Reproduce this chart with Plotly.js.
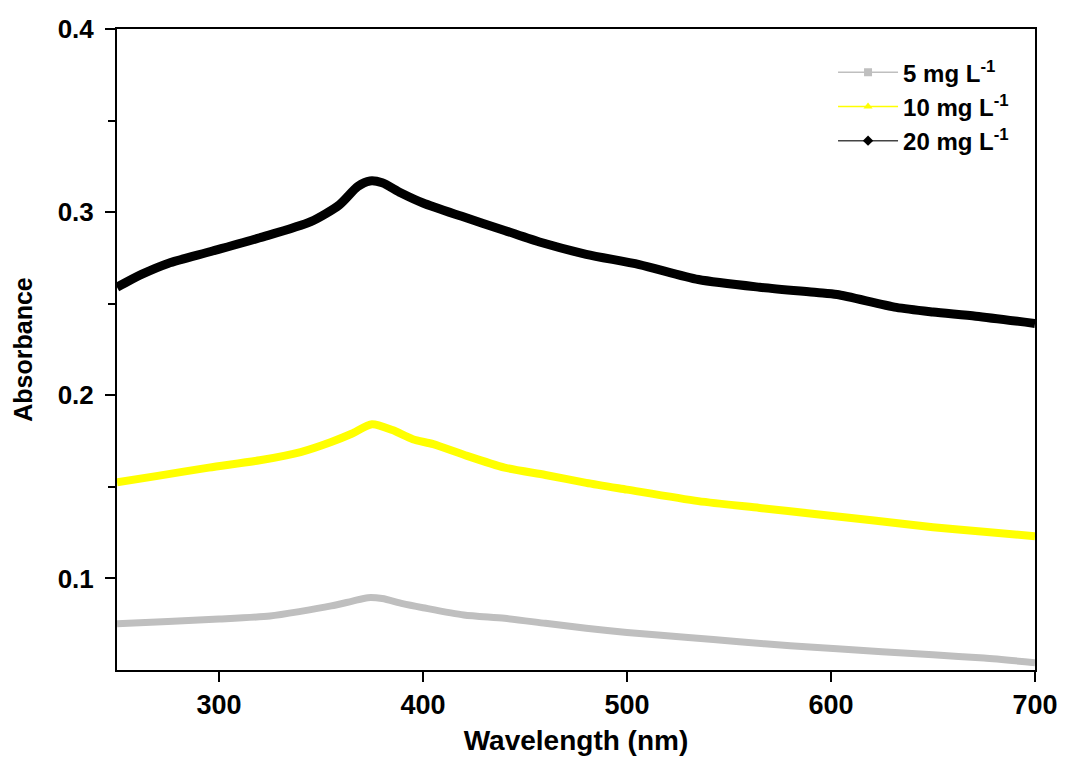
<!DOCTYPE html>
<html>
<head>
<meta charset="utf-8">
<script src="https://cdn.plot.ly/plotly-3.0.1.min.js"></script>
<style>html,body{margin:0;padding:0;background:#fff;}#chart{width:1065px;height:760px;}</style>
</head>
<body>
<div id="chart"></div>
<script>
const wl5 = [250,275,300,325,340,355,365,373,380,390,400,420,440,460,480,500,530,555,580,603,625,650,675,700];
const abs5 = [0.0752,0.0765,0.0778,0.0795,0.0820,0.0850,0.0875,0.0895,0.0890,0.0862,0.0840,0.0800,0.0782,0.0755,0.0728,0.0705,0.0678,0.0654,0.0632,0.0616,0.0600,0.0583,0.0565,0.0540];

const wl10 = [250,270,295,320,340,355,365,375,385,395,405,420,440,460,480,500,535,565,593,620,650,675,700];
const abs10 = [0.1525,0.1560,0.1605,0.1645,0.1690,0.1745,0.1790,0.1842,0.1810,0.1760,0.1733,0.1675,0.1605,0.1565,0.1522,0.1485,0.1422,0.1385,0.1351,0.1318,0.1280,0.1255,0.1230];

const wl20 = [250,262,275,296,320,345,359,368,374,380,389,400,419,440,458,480,506,535,565,593,603,632,650,671,700];
const abs20 = [0.2590,0.2660,0.2720,0.2785,0.2860,0.2948,0.3040,0.3140,0.3170,0.3160,0.3106,0.3050,0.2977,0.2900,0.2834,0.2770,0.2714,0.2632,0.2590,0.2561,0.2550,0.2480,0.2455,0.2432,0.2392];

const seriesNames = ["<b>5 mg L<sup>-1</sup></b>", "<b>10 mg L<sup>-1</sup></b>", "<b>20 mg L<sup>-1</sup></b>"];
const colors = ["#bfbfbf", "#ffff00", "#000000"];
const symbols = ["square", "triangle-up", "diamond"];
const widths = [7, 8, 9];
const xs = [wl5, wl10, wl20];
const ys = [abs5, abs10, abs20];

const traces = [];
for (let i = 0; i < 3; i++) {
  traces.push({
    x: xs[i], y: ys[i], type: "scatter", mode: "lines",
    line: {color: colors[i], width: widths[i], shape: "spline", smoothing: 0.7},
    showlegend: false, hoverinfo: "skip"
  });
}
for (let i = 0; i < 3; i++) {
  traces.push({
    x: [null], y: [null], type: "scatter", mode: "lines+markers",
    name: seriesNames[i],
    line: {color: i === 2 ? "#444444" : colors[i], width: 1.5},
    marker: {color: colors[i], symbol: symbols[i], size: 8},
    showlegend: true
  });
}

const fontMain = "Arial, Liberation Sans, sans-serif";

const layout = {
  width: 1065, height: 760,
  margin: {l: 117, r: 30, t: 29, b: 90},
  paper_bgcolor: "#fff", plot_bgcolor: "#fff",
  showlegend: true,
  legend: {
    x: 0.78, y: 0.967, xanchor: "left", yanchor: "top",
    bgcolor: "rgba(0,0,0,0)", borderwidth: 0,
    font: {family: fontMain, size: 24, color: "#000"},
    itemwidth: 60, tracegroupgap: 0
  },
  xaxis: {
    range: [250, 700],
    tickvals: [300, 400, 500, 600, 700],
    ticktext: ["<b>300</b>", "<b>400</b>", "<b>500</b>", "<b>600</b>", "<b>700</b>"],
    ticks: "outside", ticklen: 10, tickwidth: 2, tickcolor: "#000",
    showline: true, linecolor: "#000", linewidth: 2, mirror: true,
    showgrid: false, zeroline: false,
    tickfont: {family: fontMain, size: 27, color: "#000"},
    title: {text: "<b>Wavelength (nm)</b>", font: {family: fontMain, size: 28, color: "#000"}, standoff: 11}
  },
  yaxis: {
    range: [0.05, 0.4],
    tickvals: [0.1, 0.2, 0.3, 0.4],
    ticktext: ["<b>0.1</b>", "<b>0.2</b>", "<b>0.3</b>", "<b>0.4</b>"],
    ticks: "outside", ticklen: 10, tickwidth: 2, tickcolor: "#000",
    ticklabelstandoff: 6,
    minor: {tickvals: [0.15, 0.25, 0.35], ticks: "outside", ticklen: 7, tickwidth: 2, tickcolor: "#000"},
    showline: true, linecolor: "#000", linewidth: 2, mirror: true,
    showgrid: false, zeroline: false,
    tickfont: {family: fontMain, size: 26, color: "#000"},
    title: {text: "<b>Absorbance</b>", font: {family: fontMain, size: 25, color: "#000"}, standoff: 18}
  }
};

Plotly.newPlot("chart", traces, layout, {displayModeBar: false, staticPlot: true});
</script>
</body>
</html>
